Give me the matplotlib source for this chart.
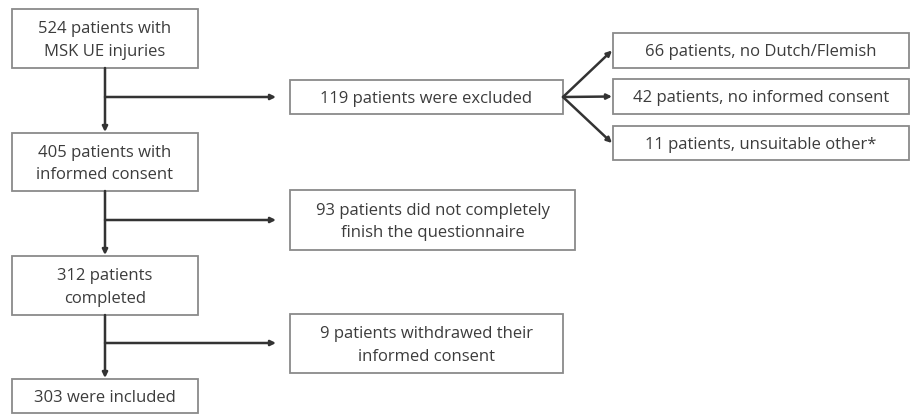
import matplotlib
matplotlib.use("Agg")
import matplotlib.pyplot as plt
from matplotlib.patches import Rectangle

plt.rcParams['font.family'] = ['Open Sans', 'DejaVu Sans']

# Flowchart content
main_labels = ["524 patients with\nMSK UE injuries",
               "405 patients with\ninformed consent",
               "312 patients\ncompleted",
               "303 were included"]
side_labels = ["119 patients were excluded",
               "93 patients did not completely\nfinish the questionnaire",
               "9 patients withdrawed their\ninformed consent"]
reason_labels = ["66 patients, no Dutch/Flemish",
                 "42 patients, no informed consent",
                 "11 patients, unsuitable other*"]

# Layout (pixel coordinates: x0, y0, x1, y1)
main_boxes = [(12, 9, 198, 68), (12, 133, 198, 191), (12, 256, 198, 315), (12, 379, 198, 413)]
side_boxes = [(290, 80, 563, 114), (290, 190, 575, 250), (290, 314, 563, 373)]
reason_boxes = [(613, 33, 909, 68), (613, 79, 909, 114), (613, 126, 909, 160)]
branch_y = [97, 220, 343]
spine_x = 105

fig = plt.figure(figsize=(9.10, 4.16), dpi=100)
ax = fig.add_axes([0, 0, 1, 1])
ax.set_xlim(0, 910)
ax.set_ylim(416, 0)
ax.axis('off')

edge = '#8a8a8a'
txt = '#3c3c3c'
line = '#333333'
fs = 12

def box(b, label):
    x0, y0, x1, y1 = b
    ax.add_patch(Rectangle((x0, y0), x1 - x0, y1 - y0, fill=False, ec=edge, lw=1.3))
    ax.text((x0 + x1) / 2, (y0 + y1) / 2 + 2, label, ha='center', va='center',
            fontsize=fs, color=txt, linespacing=1.55)

for b, l in zip(main_boxes, main_labels):
    box(b, l)
for b, l in zip(side_boxes, side_labels):
    box(b, l)
for b, l in zip(reason_boxes, reason_labels):
    box(b, l)

arrow_kw = dict(arrowstyle='-|>,head_length=0.3,head_width=0.15', color=line, lw=1.8,
                shrinkA=0, shrinkB=0)

# vertical arrows between main boxes
for i in range(3):
    ax.annotate('', xy=(spine_x, main_boxes[i + 1][1] - 1), xytext=(spine_x, main_boxes[i][3]),
                arrowprops=arrow_kw)
# horizontal branches
for i, y in enumerate(branch_y):
    ax.annotate('', xy=(side_boxes[i][0] - 14, y), xytext=(spine_x, y), arrowprops=arrow_kw)

# fan from excluded box to reasons
sx = side_boxes[0][2]
sy = (side_boxes[0][1] + side_boxes[0][3]) / 2
for b in reason_boxes:
    ty = (b[1] + b[3]) / 2
    ax.annotate('', xy=(b[0] - 1, ty), xytext=(sx, sy), arrowprops=arrow_kw)

fig.savefig('out.png', dpi=100, facecolor='white')
